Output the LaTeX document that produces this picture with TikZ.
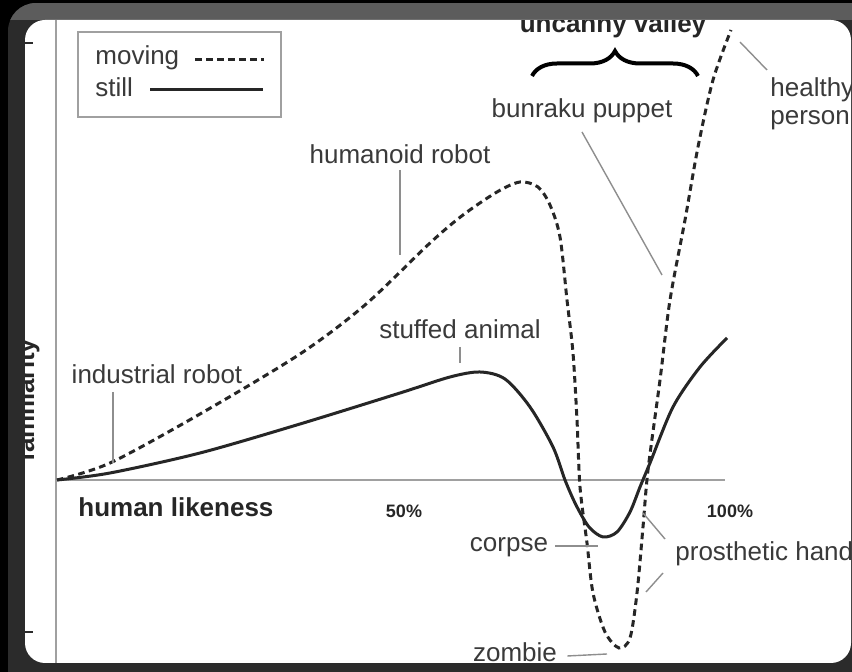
\documentclass[tikz,border=0pt]{standalone}
\usepackage{fontspec}
\setmainfont{Liberation Sans}
\usetikzlibrary{decorations.pathreplacing}

\definecolor{inkgray}{HTML}{3A3A3A}
\definecolor{leadgray}{HTML}{8E8E8E}
\definecolor{axisgray}{HTML}{A0A0A0}
\definecolor{framedark}{HTML}{2B2B2B}
\definecolor{frametop}{HTML}{5C5C5C}

\begin{document}
\begin{tikzpicture}[x=0.5pt, y=-0.5pt,
    lab/.style={font=\fontsize{13}{15}\selectfont, text=inkgray, inner sep=0pt},
    boldlab/.style={font=\fontsize{13}{15}\selectfont\bfseries, text=black!85, inner sep=0pt},
    pct/.style={font=\fontsize{9}{11}\selectfont\bfseries, text=black!85, inner sep=0pt},
    leader/.style={draw=leadgray, line width=0.7pt},
    axis/.style={draw=axisgray, line width=1pt},
    still/.style={draw=black!85, line width=1.5pt},
    moving/.style={draw=black!85, line width=1.5pt, dash pattern=on 3.3pt off 2.2pt}]

  % frame
  \fill[black] (0,0) rectangle (852,672);
  \useasboundingbox (0,0) rectangle (852,672);
  \begin{scope}
    \clip[rounded corners=14pt] (8,3) rectangle (890,700);
    \fill[framedark] (8,3) rectangle (890,700);
    \fill[frametop] (8,3) rectangle (890,20);
  \end{scope}
  \fill[white, rounded corners=10pt] (25,20) rectangle (851,663);
  \draw[framedark, line width=1pt] (25,43) -- (33,43) (25,632) -- (33,632);

  \begin{scope}
    \clip[rounded corners=10pt] (25,20) rectangle (851,663);

    % axes
    \draw[axis] (56,20) -- (56,663);
    \draw[axis] (56,480) -- (725,480);
    \node[boldlab, rotate=90, anchor=base] (ylab) at (34,400) {familiarity};
    \node[boldlab, anchor=base west] (xlab) at (78,517) {human likeness};
    \node[pct, anchor=base] (half) at (404,518) {50\%};
    \node[pct, anchor=base] (full) at (730,518) {100\%};

    % legend
    \draw[axisgray, line width=0.8pt] (78,32) rectangle (281,117);
    \node[lab, anchor=base west] (movinglab) at (95,65) {moving};
    \node[lab, anchor=base west] (stilllab) at (95,97) {still};
    \draw[moving] (195,60) -- (264,60);
    \draw[still] (150,90) -- (263,90);

    % curves
    \draw[still] plot[smooth, tension=0.5] coordinates {
      (57,480) (110,473) (200,453) (300,424) (400,393) (450,377) (480,372)
      (505,379) (530,407) (553,447) (565,480) (576,505) (589,527) (603,537)
      (617,532) (630,512) (640,487) (650,463) (673,407) (700,367) (727,338)};
    \draw[moving] plot[smooth, tension=0.5] coordinates {
      (57,480) (110,463) (200,414) (300,354) (365,305) (430,243) (463,215)
      (497,192) (520,182) (538,187) (550,205) (560,237) (567,300) (573,353)
      (577,420) (580,487) (587,543) (593,593) (605,632) (619,648) (630,638)
      (637,593) (643,527) (648,470) (660,380) (670,300) (685,220) (698,147)
      (713,80) (731,30)};

    % uncanny valley
    \node[boldlab, anchor=base] (valley) at (613,33) {uncanny valley};
    \draw[black, line width=2pt, decorate,
          decoration={brace, amplitude=12.5pt, aspect=0.5}] (532,76) -- (698,76);

    % labels
    \node[lab, anchor=base] (bunraku) at (582,118) {bunraku puppet};
    \node[lab, anchor=base west] (healthy) at (770,97) {healthy};
    \node[lab, anchor=base west] (person) at (770,125) {person};
    \node[lab, anchor=base] (humanoid) at (400,164) {humanoid robot};
    \node[lab, anchor=base] (stuffed) at (460,339) {stuffed animal};
    \node[lab, anchor=base] (industrial) at (157,384) {industrial robot};
    \node[lab, anchor=base] (corpse) at (509,552) {corpse};
    \node[lab, anchor=base west] (prosthetic) at (675,561) {prosthetic hand};
    \node[lab, anchor=base] (zombie) at (515,662) {zombie};

    % leader ends on the curves
    \coordinate (on-healthy) at (740,42);
    \coordinate (on-bunraku) at (662,275);
    \coordinate (on-humanoid) at (400,255);
    \coordinate (on-stuffed) at (460,363);
    \coordinate (on-industrial) at (113,463);
    \coordinate (on-corpse) at (598,546);
    \coordinate (on-handa) at (643,513);
    \coordinate (on-handb) at (646,592);
    \coordinate (on-zombie) at (607,654);

    \draw[leader] ([shift={(-1.5pt,13.5pt)}]healthy.base west) -- (on-healthy);
    \draw[leader] ([yshift=-7pt]bunraku.base) -- (on-bunraku);
    \draw[leader] ([yshift=-3pt]humanoid.base) -- (on-humanoid);
    \draw[leader] ([yshift=-4pt]stuffed.base) -- (on-stuffed);
    \draw[leader] ([shift={(-22pt,-4pt)}]industrial.base) -- (on-industrial);
    \draw[leader] ([shift={(3.5pt,3pt)}]corpse.base east) -- (on-corpse);
    \draw[leader] ([shift={(-5pt,11pt)}]prosthetic.base west) -- (on-handa);
    \draw[leader] ([shift={(-6pt,-6pt)}]prosthetic.base west) -- (on-handb);
    \draw[leader] ([shift={(5pt,3pt)}]zombie.base east) -- (on-zombie);
  \end{scope}
\end{tikzpicture}
\end{document}
